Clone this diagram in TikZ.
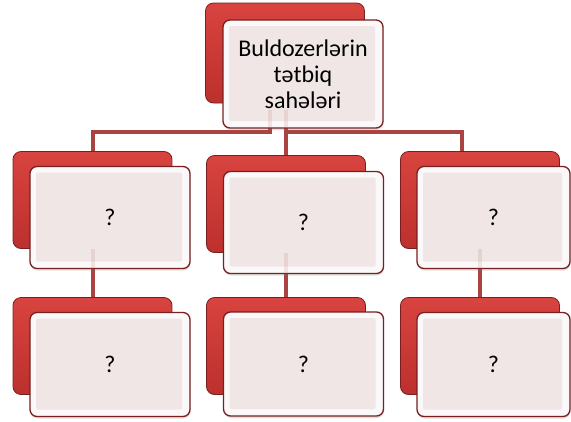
\documentclass[tikz,border=0pt]{standalone}
\usepackage{fontspec}
\setmainfont{Carlito}
\usetikzlibrary{shadows}
\definecolor{cardred}{HTML}{D8443F}
\definecolor{cardreddark}{HTML}{BC302D}
\definecolor{rim}{HTML}{7A1F1F}
\definecolor{linkred}{HTML}{A94442}
\definecolor{facepink}{HTML}{F0E6E6}
\definecolor{facelight}{HTML}{FAF8F8}
\tikzset{
    backcard/.style={draw=rim, line width=0.8pt, rounded corners=8pt,
        top color=cardred, bottom color=cardreddark, inner sep=0pt,
        minimum width=159pt, minimum height=97pt},
    frontcard/.style={draw=rim, line width=1.3pt, rounded corners=7pt,
        fill=facelight, inner sep=0pt, minimum width=160pt, minimum height=102pt,
        align=center, font=\fontsize{24}{26}\selectfont,
        drop shadow={opacity=0.25, shadow xshift=0.5pt, shadow yshift=-2pt},
        path picture={\fill[facepink, rounded corners=2pt]
            ([shift={(6pt,-6pt)}]path picture bounding box.north west) rectangle
            ([shift={(-8pt,7pt)}]path picture bounding box.south east);}},
    link/.style={draw=linkred, line width=4pt},
    ghost/.style={draw=linkred, line width=4pt, opacity=0.12}
}
\begin{document}
\begin{tikzpicture}[x=1pt,y=-1pt]
\useasboundingbox (0,0) rectangle (571,421);

% red cards at the back
\node[backcard, minimum height=100pt] (rootback) at (285,53) {};
\node[backcard] (c1back) at (92.5,200) {};
\node[backcard] (c2back) at (286,204) {};
\node[backcard] (c3back) at (480,200) {};
\node[backcard] (d1back) at (92.5,346) {};
\node[backcard] (d2back) at (286,346) {};
\node[backcard] (d3back) at (480,346) {};

\coordinate (tapL) at ([xshift=-15pt]rootback.south);
\coordinate (tapR) at ([xshift=1pt]rootback.south);

% tree lines
\draw[style={link}] (tapL) |- ([yshift=19pt]c1back.north) -- (c1back.north);
\draw[style={link}] (tapR) -- (c2back.north);
\draw[style={link}] (tapR) |- ([xshift=-18pt,yshift=19pt]c3back.north)
    -- ([xshift=-18pt]c3back.north);
\draw[style={link}] (c1back.south) -- (d1back.north);
\draw[style={link}] (c2back.south) -- (d2back.north);
\draw[style={link}] (c3back.south) -- (d3back.north);

% white cards in front
\node[frontcard, minimum height=108pt] (rootfront) at (303,74)
    {Buldozerlərin\\tətbiq\\sahələri};
\node[frontcard] (c1front) at (110,217.5) {?};
\node[frontcard] (c2front) at (303.5,222.5) {?};
\node[frontcard, minimum width=153pt] (c3front) at (493.5,217.5) {?};
\node[frontcard, minimum height=104pt] (d1front) at (110,364.5) {?};
\node[frontcard, minimum height=104pt] (d2front) at (303.5,364) {?};
\node[frontcard, minimum width=153pt, minimum height=104pt] (d3front) at (493.5,364.5) {?};

% lines showing faintly through the white cards
\draw[style={ghost}] ([yshift=-7pt]tapL) -- (tapL |- rootfront.south);
\draw[style={ghost}] ([yshift=-7pt]tapR) -- (tapR |- rootfront.south);
\draw[style={ghost}] (c1back.south) -- (c1back.south |- c1front.south);
\draw[style={ghost}] (c2back.south) -- (c2back.south |- c2front.south);
\draw[style={ghost}] (c3back.south) -- (c3back.south |- c3front.south);
\end{tikzpicture}
\end{document}
